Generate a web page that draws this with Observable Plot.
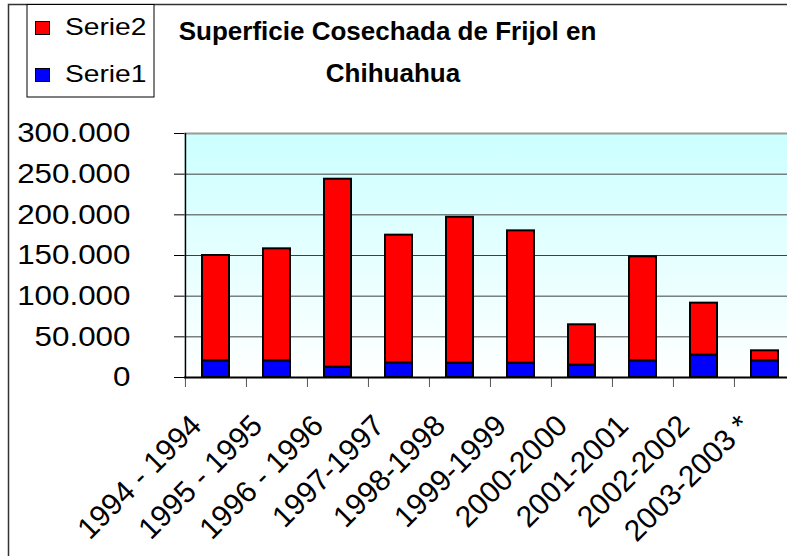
<!DOCTYPE html>
<html><head><meta charset="utf-8">
<script src="https://cdn.jsdelivr.net/npm/d3@7"></script>
<script src="https://cdn.jsdelivr.net/npm/@observablehq/plot@0.6"></script>
<style>
html,body{margin:0;padding:0;background:#fff;overflow:hidden;}
#wrap{position:relative;width:787px;height:556px;overflow:hidden;}
#wrap svg{position:absolute;left:0;top:0;}
</style></head><body><div id="wrap"></div>
<script>
const categories = ["1994 - 1994","1995 - 1995","1996 - 1996","1997-1997","1998-1998","1999-1999","2000-2000","2001-2001","2002-2002","2003-2003 *"];
const serie1 = [20500, 20500, 12700, 18000, 17600, 17600, 15200, 20500, 27500, 20500];
const serie2 = [129500, 137700, 231100, 157000, 179400, 162700, 49600, 127900, 63900, 12300];
const seriesNames = ["Serie1", "Serie2"];
const seriesColors = ["#0000ff", "#ff0000"];
const yTicks = [0, 50000, 100000, 150000, 200000, 250000, 300000];
const yTickLabels = ["0", "50.000", "100.000", "150.000", "200.000", "250.000", "300.000"];
const titleLines = ["Superficie Cosechada de Frijol en", "Chihuahua"];

const rows = [];
categories.forEach((c, i) => rows.push({cat: c, serie: "Serie1", value: serie1[i]}));
categories.forEach((c, i) => rows.push({cat: c, serie: "Serie2", value: serie2[i]}));

const step = 611 / categories.length;
const font = "'Liberation Sans', Arial, sans-serif";

const chart = Plot.plot({
  width: 787, height: 556,
  marginTop: 133, marginBottom: 179, marginLeft: 184, marginRight: 0,
  style: {fontFamily: font, fontSize: "28px", color: "#000", background: "transparent", overflow: "visible"},
  x: {domain: categories, range: [184, 795], paddingInner: 0.56, paddingOuter: 0.28},
  y: {domain: [0, 300000]},
  color: {domain: seriesNames, range: seriesColors},
  marks: [
    Plot.frame({fill: "url(#bgGrad)", stroke: null}),
    Plot.ruleY(yTicks.filter(v => v > 0 && v < 300000), {stroke: "#404040", strokeWidth: 1}),
    Plot.ruleY([300000], {stroke: "#9a9a9a", strokeWidth: 2}),
    Plot.barY(rows, {x: "cat", y: "value", fill: "serie", stroke: "#000", strokeWidth: 2}),
    Plot.axisX({ticks: categories, tickFormat: () => "", tickSize: 10, dx: -step / 2, stroke: "#555", label: null}),
    Plot.ruleX([categories[0]], {dx: -step / 2, stroke: "#000", strokeWidth: 1.5}),
    Plot.ruleY([0], {stroke: "#000", strokeWidth: 2}),
    Plot.axisY({ticks: yTicks, tickSize: 10, tickPadding: 44, tickFormat: d => yTickLabels[yTicks.indexOf(d)], fontSize: 28, label: null}),
    Plot.text(categories, {x: d => d, frameAnchor: "bottom", rotate: -45, textAnchor: "end", lineAnchor: "bottom", dx: -13, dy: 50, fontSize: 30, fill: "#000"})
  ]
});

const ns = "http://www.w3.org/2000/svg";
const defs = document.createElementNS(ns, "defs");
defs.innerHTML = '<linearGradient id="bgGrad" x1="0" y1="0" x2="0" y2="1"><stop offset="0" stop-color="#ccffff"/><stop offset="1" stop-color="#ffffff"/></linearGradient>';
chart.insertBefore(defs, chart.firstChild);

// slight horizontal stretch of y tick labels, as in the original
chart.querySelectorAll('g[aria-label="y-axis tick label"] text').forEach(t => {
  const tr = t.getAttribute("transform");
  if (tr) t.setAttribute("transform", tr + " scale(1.12,1)");
  else {
    const x = +t.getAttribute("x") || 0;
    t.setAttribute("x", 0);
    t.setAttribute("transform", `translate(${x},0) scale(1.12,1)`);
  }
});

document.getElementById("wrap").appendChild(chart);

// overlay: border, legend, title
const ov = document.createElementNS(ns, "svg");
ov.setAttribute("width", 787); ov.setAttribute("height", 556);
ov.style.fontFamily = font;
ov.innerHTML = `
  <path d="M8.5,556 V4.5 H787" fill="none" stroke="#333" stroke-width="1.5"/>
  <rect x="27" y="4.5" width="127" height="92.5" fill="#fff" stroke="#000" stroke-width="1"/>
  <rect x="35.5" y="21.5" width="14" height="13" fill="${seriesColors[1]}" stroke="#000" stroke-width="1"/>
  <rect x="35.5" y="68.5" width="14" height="13" fill="${seriesColors[0]}" stroke="#000" stroke-width="1"/>
  <text transform="translate(65,35) scale(1.2,1)" font-size="23.5" fill="#000">${seriesNames[1]}</text>
  <text transform="translate(65,82) scale(1.2,1)" font-size="23.5" fill="#000">${seriesNames[0]}</text>
  <text x="387.5" y="40" text-anchor="middle" font-size="26" font-weight="bold" fill="#000">${titleLines[0]}</text>
  <text x="393" y="82" text-anchor="middle" font-size="26" font-weight="bold" fill="#000">${titleLines[1]}</text>
`;
document.getElementById("wrap").appendChild(ov);
</script></body></html>
